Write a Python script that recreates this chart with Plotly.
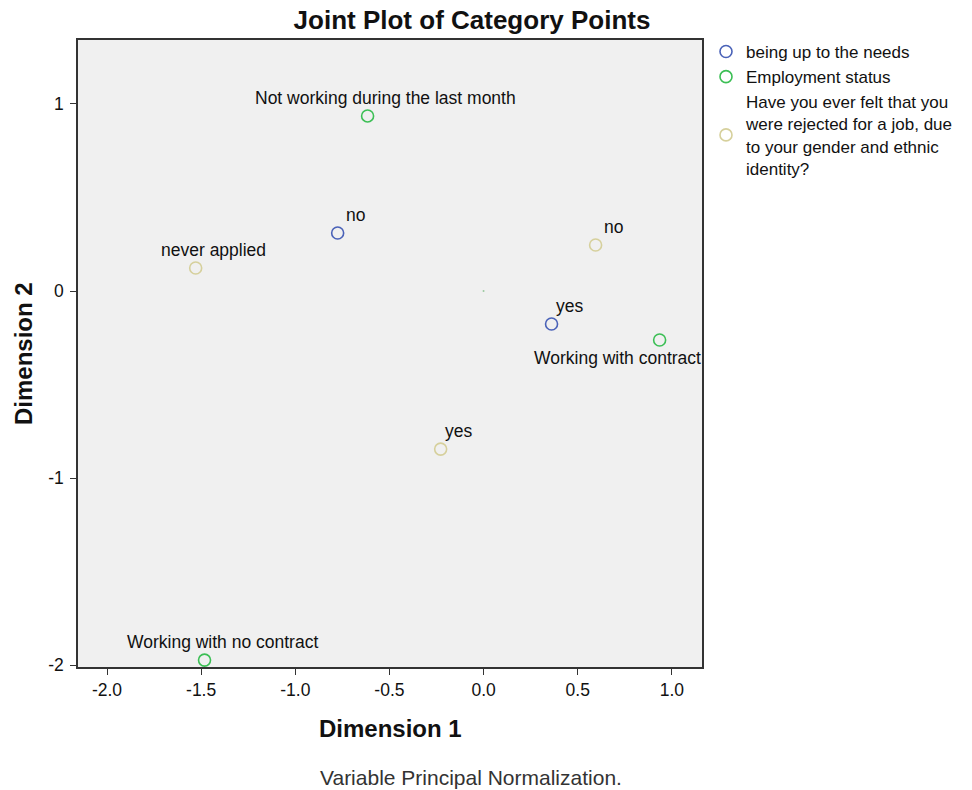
import plotly.graph_objects as go

# Data
needs_labels = ["no", "yes"]
needs_x = [-0.775, 0.361]
needs_y = [0.31, -0.176]

emp_labels = ["Not working during the last month", "Working with contract", "Working with no contract"]
emp_x = [-0.616, 0.935, -1.482]
emp_y = [0.936, -0.262, -1.973]

rej_labels = ["never applied", "no", "yes"]
rej_x = [-1.529, 0.595, -0.228]
rej_y = [0.123, 0.246, -0.845]

series_names = ["being up to the needs", "Employment status",
                "Have you ever felt that you<br>were rejected for a job, due<br>to your gender and ethnic<br>identity?"]
colors = ["#4a62b8", "#3cbf55", "#d6d09c"]

FONT = "Liberation Sans, Arial, sans-serif"
FS = 17.5

fig = go.Figure()
for name, xs, ys, c in zip(series_names, [needs_x, emp_x, rej_x], [needs_y, emp_y, rej_y], colors):
    fig.add_trace(go.Scatter(x=xs, y=ys, mode="markers", name=name,
                             marker=dict(symbol="circle-open", size=12, color=c, line=dict(width=1.6, color=c))))

# origin dot
fig.add_trace(go.Scatter(x=[0], y=[0], mode="markers", showlegend=False,
                         marker=dict(size=2, color="#9cc9a0"), hoverinfo="skip"))

annotations = []
def lab(xs, ys, labels, below=None):
    for i, (x, y, t) in enumerate(zip(xs, ys, labels)):
        if below is not None and i == below:
            annotations.append(dict(x=x, y=y, xref="x", yref="y", text=t, showarrow=False,
                                    xanchor="right", yanchor="middle", xshift=43, yshift=-18,
                                    font=dict(family=FONT, size=FS, color="#111")))
        else:
            annotations.append(dict(x=x, y=y, xref="x", yref="y", text=t, showarrow=False,
                                    xanchor="center", yanchor="middle", xshift=18, yshift=18,
                                    font=dict(family=FONT, size=FS, color="#111")))
lab(needs_x, needs_y, needs_labels)
lab(emp_x, emp_y, emp_labels, below=1)
lab(rej_x, rej_y, rej_labels)

annotations.append(dict(text="Variable Principal Normalization.", xref="paper", yref="paper",
                        x=(471 - 78) / 624, y=-(777 - 667) / 627, xanchor="center", yanchor="middle",
                        showarrow=False, font=dict(family=FONT, size=21, color="#333")))
annotations.append(dict(text="<b>Dimension 1</b>", xref="paper", yref="paper",
                        x=0.5, y=-(728 - 667) / 627, xanchor="center", yanchor="middle",
                        showarrow=False, font=dict(family=FONT, size=24, color="#111")))
annotations.append(dict(text="<b>Dimension 2</b>", xref="paper", yref="paper", textangle=-90,
                        x=-(78 - 23) / 624, y=(667 - 353) / 627, xanchor="center", yanchor="middle",
                        showarrow=False, font=dict(family=FONT, size=24, color="#111")))

fig.update_layout(
    width=972, height=790,
    margin=dict(l=78, r=270, t=40, b=123, autoexpand=False),
    paper_bgcolor="white", plot_bgcolor="#f0f0f0",
    title=dict(text="<b>Joint Plot of Category Points</b>", x=472 / 972, xref="container", xanchor="center",
               y=1 - 20 / 790, yref="container", yanchor="middle",
               font=dict(family=FONT, size=26, color="#111")),
    font=dict(family=FONT, size=FS, color="#111"),
    legend=dict(x=(706 - 78) / 624, y=1 + 6 / 627, xanchor="left", yanchor="top",
                bgcolor="rgba(0,0,0,0)", font=dict(family=FONT, size=17, color="#111"),
                itemwidth=30, tracegroupgap=0),
    annotations=annotations,
    showlegend=True,
)
fig.update_xaxes(range=[-2.154, 1.16], tickvals=[-2, -1.5, -1, -0.5, 0, 0.5, 1],
                 ticktext=["-2.0", "-1.5", "-1.0", "-0.5", "0.0", "0.5", "1.0"],
                 showgrid=False, zeroline=False, showline=True, linecolor="#333", linewidth=1.5,
                 mirror=True, ticks="outside", ticklen=6, tickcolor="#333", automargin=False,
                 tickfont=dict(family=FONT, size=FS, color="#111"))
fig.update_yaxes(range=[-2.01, 1.342], tickvals=[-2, -1, 0, 1],
                 ticktext=["-2", "-1", "0", "1"],
                 showgrid=False, zeroline=False, showline=True, linecolor="#333", linewidth=1.5,
                 mirror=True, ticks="outside", ticklen=6, tickcolor="#333", automargin=False,
                 ticklabelstandoff=3,
                 tickfont=dict(family=FONT, size=FS, color="#111"))

fig.write_html("out.html", post_script="document.body.style.margin='0';",
               config={"displayModeBar": False})
